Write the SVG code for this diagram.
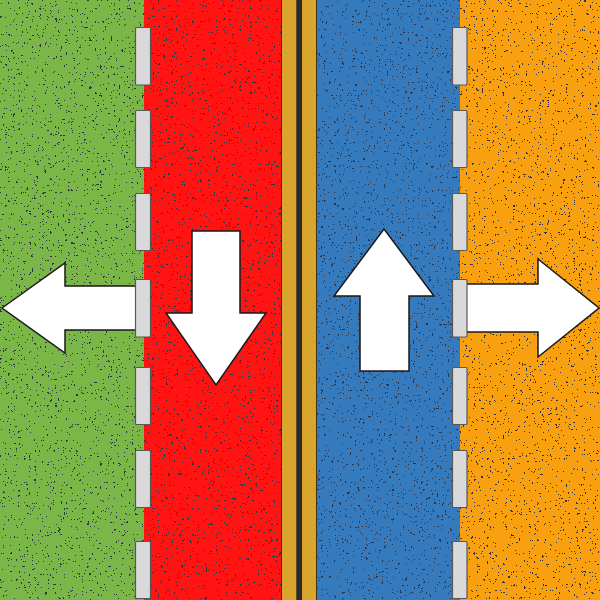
<svg xmlns="http://www.w3.org/2000/svg" width="600" height="600" viewBox="0 0 600 600">
<defs>
<style>
.arrow{fill:#ffffff;stroke:#1a1a1a;stroke-width:1.5;stroke-linejoin:miter}
.dash{fill:#d9d9d9;stroke:#585858;stroke-width:1.2}
</style>
<filter id="speckDense" x="0" y="0" width="600" height="600" filterUnits="userSpaceOnUse" color-interpolation-filters="sRGB">
<feTurbulence type="fractalNoise" baseFrequency="0.38" numOctaves="2" seed="3" result="t"/>
<feColorMatrix in="t" type="matrix" values="0 0 0 0 0.18  0 0 0 0 0.2  0 0 0 0 0.27  20 0 0 0 -14"/>
<feComponentTransfer><feFuncA type="discrete" tableValues="0 1"/></feComponentTransfer>
</filter>
<filter id="speckMed" x="0" y="0" width="600" height="600" filterUnits="userSpaceOnUse" color-interpolation-filters="sRGB">
<feTurbulence type="fractalNoise" baseFrequency="0.38" numOctaves="2" seed="7" result="t"/>
<feColorMatrix in="t" type="matrix" values="0 0 0 0 0.18  0 0 0 0 0.2  0 0 0 0 0.27  20 0 0 0 -14.7"/>
<feComponentTransfer><feFuncA type="discrete" tableValues="0 1"/></feComponentTransfer>
</filter>
<filter id="speckSparse" x="0" y="0" width="600" height="600" filterUnits="userSpaceOnUse" color-interpolation-filters="sRGB">
<feTurbulence type="fractalNoise" baseFrequency="0.38" numOctaves="2" seed="11" result="t"/>
<feColorMatrix in="t" type="matrix" values="0 0 0 0 0.18  0 0 0 0 0.2  0 0 0 0 0.27  20 0 0 0 -15.4"/>
<feComponentTransfer><feFuncA type="discrete" tableValues="0 1"/></feComponentTransfer>
</filter>
</defs>

<g id="lanes">
<rect x="0" y="0" width="144" height="600" fill="#7ab648"/>
<rect x="144" y="0" width="137" height="600" fill="#ff1313"/>
<rect x="317" y="0" width="143" height="600" fill="#357abd"/>
<rect x="460" y="0" width="140" height="600" fill="#f9a010"/>
</g>

<g id="texture">
<rect x="0" y="0" width="144" height="600" fill="#000" filter="url(#speckMed)"/>
<rect x="144" y="0" width="137" height="600" fill="#000" filter="url(#speckMed)"/>
<rect x="317" y="0" width="143" height="600" fill="#000" filter="url(#speckSparse)"/>
<rect x="460" y="0" width="140" height="600" fill="#000" filter="url(#speckDense)"/>
</g>

<g id="center-divider">
<rect x="281" y="0" width="36" height="600" fill="#3a3220"/>
<rect x="282" y="0" width="14.5" height="600" fill="#d9a52c"/>
<rect x="296.5" y="0" width="5.5" height="600" fill="#2a2a2a"/>
<rect x="302" y="0" width="14" height="600" fill="#d9a52c"/>
</g>

<g id="arrow-left">
<polygon class="arrow" points="2,308 65,263 65,286 140,286 140,330 65,330 65,353"/>
</g>
<g id="arrow-right">
<polygon class="arrow" points="462,284 538,284 538,259 599,308 538,357 538,332 462,332"/>
</g>
<g id="arrow-down">
<polygon class="arrow" points="192,231 240,231 240,313 266,313 216,385 166,313 192,313"/>
</g>
<g id="arrow-up">
<polygon class="arrow" points="384,229 434,296 409,296 409,371 360,371 360,296 334,296"/>
</g>

<g id="dashes-left">
<rect class="dash" x="135.5" y="27.5" width="15" height="57.5" rx="1"/>
<rect class="dash" x="135.5" y="110.5" width="15" height="57" rx="1"/>
<rect class="dash" x="135.5" y="193.5" width="15" height="57" rx="1"/>
<rect class="dash" x="135.5" y="279.5" width="15" height="57.5" rx="1"/>
<rect class="dash" x="135.5" y="367.5" width="15" height="57" rx="1"/>
<rect class="dash" x="135.5" y="450.5" width="15" height="57" rx="1"/>
<rect class="dash" x="135.5" y="541.5" width="15" height="57" rx="1"/>
</g>
<g id="dashes-right">
<rect class="dash" x="452.5" y="27.5" width="14.5" height="57.5" rx="1"/>
<rect class="dash" x="452.5" y="110.5" width="14.5" height="57" rx="1"/>
<rect class="dash" x="452.5" y="193.5" width="14.5" height="57" rx="1"/>
<rect class="dash" x="452.5" y="279.5" width="14.5" height="57.5" rx="1"/>
<rect class="dash" x="452.5" y="367.5" width="14.5" height="57" rx="1"/>
<rect class="dash" x="452.5" y="450.5" width="14.5" height="57" rx="1"/>
<rect class="dash" x="452.5" y="541.5" width="14.5" height="57" rx="1"/>
</g>
</svg>
